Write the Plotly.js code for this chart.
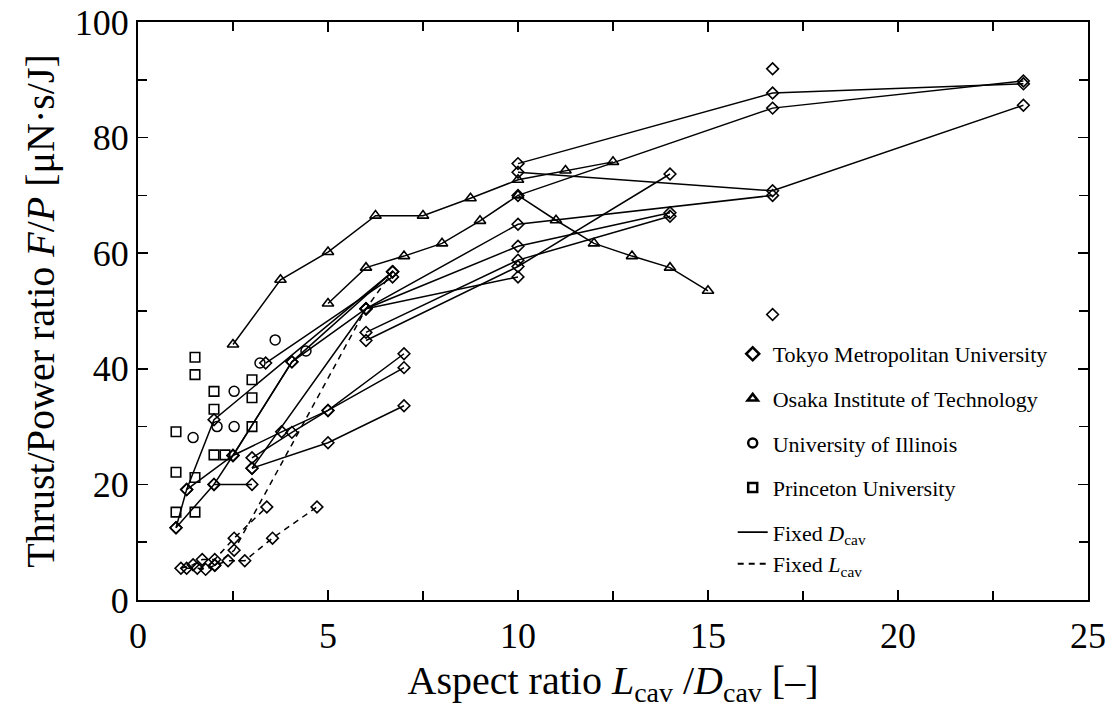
<!DOCTYPE html>
<html><head><meta charset="utf-8">
<script src="https://cdn.plot.ly/plotly-3.0.1.min.js"></script>
<style>html,body{margin:0;padding:0;background:#fff}#chart{width:1115px;height:708px}</style>
</head><body><div id="chart"></div>
<script>
// ---- Tokyo Metropolitan University, fixed D_cav (solid) ----
const tmuD1x = [1.0, 1.28, 2.0, 6.7],            tmuD1y = [12.5, 19.1, 31.2, 56.8];
const tmuD2x = [3.36, 6.7],                       tmuD2y = [41.0, 55.9];
const tmuD3x = [1.0, 2.0, 3.0],                   tmuD3y = [12.5, 20.0, 20.0];
const tmuD4x = [1.28, 2.5, 3.78, 5.0, 7.0],       tmuD4y = [19.1, 25.0, 29.1, 32.8, 40.2];
const tmuD5x = [2.0, 2.5, 4.05, 6.7],             tmuD5y = [20.0, 25.0, 41.2, 56.8];
const tmuD6x = [2.5, 4.05, 6.0, 10, 16.7],        tmuD6y = [25.0, 41.2, 50.4, 65.0, 70.0];
const tmuD7x = [3.0, 4.05, 5.0, 7.0],             tmuD7y = [24.6, 29.0, 32.8, 42.6];
const tmuD8x = [3.0, 5.0, 7.0],                   tmuD8y = [22.8, 27.2, 33.6];
const tmuD9x = [3.0, 6.0, 10, 14],                tmuD9y = [22.8, 50.4, 61.2, 67.0];
const tmuD10x = [6.0, 10, 14],                    tmuD10y = [46.3, 58.8, 66.4];
const tmuD11x = [6.0, 10, 14],                    tmuD11y = [44.9, 57.7, 73.7];
const tmuD12x = [6.0, 10],                        tmuD12y = [50.4, 55.9];
const tmuD13x = [10, 16.7, 23.3],                 tmuD13y = [75.5, 87.7, 89.3];
const tmuD14x = [10, 16.7, 23.3],                 tmuD14y = [70.0, 85.1, 89.8];
const tmuD15x = [10, 16.7, 23.3],                 tmuD15y = [74.0, 70.8, 85.6];
// ---- Tokyo Metropolitan University, fixed L_cav (dashed) ----
const tmuL1x = [1.13, 1.45, 1.69, 2.02, 2.53, 3.39],             tmuL1y = [5.5, 6.1, 7.0, 7.0, 10.7, 16.1];
const tmuL2x = [1.28, 1.56, 1.78, 2.02, 2.37, 2.81, 3.54, 4.71], tmuL2y = [5.5, 5.5, 5.3, 6.0, 6.8, 6.8, 10.7, 16.1];
const tmuL3x = [2.02, 2.53, 6.0, 6.7],                           tmuL3y = [6.0, 8.6, 50.4, 56.8];
// ---- Tokyo isolated points ----
const tmuPx = [16.7, 16.7], tmuPy = [91.9, 49.4];
// ---- Osaka Institute of Technology ----
const oitAx = [2.5, 3.75, 5.0, 6.25, 7.5, 8.75, 10, 11.25, 12.5];
const oitAy = [44.2, 55.4, 60.2, 66.5, 66.5, 69.5, 72.7, 74.3, 75.8];
const oitBx = [5, 6, 7, 8, 9, 10, 11, 12, 13, 14, 15];
const oitBy = [51.3, 57.5, 59.5, 61.7, 65.6, 70.0, 65.7, 61.7, 59.5, 57.5, 53.5];
// ---- University of Illinois ----
const uiucX = [1.45, 2.08, 2.53, 2.53, 3.21, 3.61, 4.42];
const uiucY = [28.1, 30.0, 36.1, 30.0, 41.0, 45.0, 43.1];
// ---- Princeton University ----
const prX = [1.0, 1.0, 1.0, 1.5, 1.5, 1.5, 1.5, 2.0, 2.0, 2.0, 2.29, 3.0, 3.0, 3.0];
const prY = [29.1, 22.1, 15.2, 42.0, 39.0, 21.2, 15.2, 36.1, 33.0, 25.1, 25.1, 38.1, 35.0, 30.0];

const legendNames = ['Tokyo Metropolitan University', 'Osaka Institute of Technology',
  'University of Illinois', 'Princeton University',
  'Fixed <i>D</i><sub>cav</sub>', 'Fixed <i>L</i><sub>cav</sub>'];

const BLACK = '#000';
const diamond = {symbol: 'diamond-open', size: 9, color: BLACK, line: {width: 1.6, color: BLACK}};
const tri = {symbol: 'triangle-up-open', size: 10, color: BLACK, line: {width: 1.6, color: BLACK}};
const circ = {symbol: 'circle-open', size: 10, color: BLACK, line: {width: 1.5, color: BLACK}};
const sq = {symbol: 'square-open', size: 9.5, color: BLACK, line: {width: 1.6, color: BLACK}};

const traces = [];
function lineTrace(x, y, marker, dash) {
  traces.push({x: x, y: y, type: 'scatter', mode: 'lines+markers', showlegend: false,
    line: {color: BLACK, width: 1.5, dash: dash || 'solid'}, marker: marker, hoverinfo: 'skip'});
}
lineTrace(oitAx, oitAy, tri);
lineTrace(oitBx, oitBy, tri);
[[tmuD1x,tmuD1y],[tmuD2x,tmuD2y],[tmuD3x,tmuD3y],[tmuD4x,tmuD4y],[tmuD5x,tmuD5y],
 [tmuD6x,tmuD6y],[tmuD7x,tmuD7y],[tmuD8x,tmuD8y],[tmuD9x,tmuD9y],[tmuD10x,tmuD10y],
 [tmuD11x,tmuD11y],[tmuD12x,tmuD12y],[tmuD13x,tmuD13y],[tmuD14x,tmuD14y],[tmuD15x,tmuD15y]]
 .forEach(p => lineTrace(p[0], p[1], diamond));
[[tmuL1x,tmuL1y],[tmuL2x,tmuL2y],[tmuL3x,tmuL3y]].forEach(p => lineTrace(p[0], p[1], diamond, '6px,5px'));
traces.push({x: tmuPx, y: tmuPy, type: 'scatter', mode: 'markers', showlegend: false, marker: diamond});
traces.push({x: uiucX, y: uiucY, type: 'scatter', mode: 'markers', showlegend: false, marker: circ});
traces.push({x: prX, y: prY, type: 'scatter', mode: 'markers', showlegend: false, marker: sq});

// legend entries
const legMarkers = [
  {symbol: 'diamond-open', size: 10, color: BLACK, line: {width: 2.5, color: BLACK}},
  {symbol: 'triangle-up-open', size: 9, color: BLACK, line: {width: 2.5, color: BLACK}},
  {symbol: 'circle-open', size: 9, color: BLACK, line: {width: 2.5, color: BLACK}},
  {symbol: 'square-open', size: 9, color: BLACK, line: {width: 2.5, color: BLACK}}];
legMarkers.forEach((m, i) => traces.push({x: [null], y: [null], type: 'scatter', mode: 'markers',
  name: legendNames[i], marker: m, legendgroup: 'g' + i}));
traces.push({x: [null], y: [null], type: 'scatter', mode: 'lines', name: legendNames[4],
  line: {color: BLACK, width: 1.8}, legendgroup: 'g4'});
traces.push({x: [null], y: [null], type: 'scatter', mode: 'lines', name: legendNames[5],
  line: {color: BLACK, width: 1.8, dash: '6px,5px'}, legendgroup: 'g4'});

const FONT = 'Liberation Serif, Times New Roman, serif';
const axisCommon = {
  showline: true, linewidth: 2, linecolor: BLACK, mirror: 'allticks',
  ticks: 'inside', ticklen: 10, tickwidth: 1.5, tickcolor: BLACK,
  showgrid: false, zeroline: false,
  tickfont: {family: FONT, size: 36, color: BLACK}
};
const layout = {
  width: 1115, height: 708,
  margin: {l: 138, r: 27, t: 22, b: 108},
  paper_bgcolor: '#fff', plot_bgcolor: '#fff',
  font: {family: FONT, color: BLACK},
  xaxis: Object.assign({}, axisCommon, {
    range: [0, 25], dtick: 5, tick0: 0, ticklabelstandoff: 3,
    minor: {dtick: 2.5, ticks: 'inside', ticklen: 9, tickwidth: 1.5, tickcolor: BLACK, showgrid: false},
    title: {text: 'Aspect ratio <i>L</i><sub>cav</sub> /<i>D</i><sub>cav</sub> [–]',
      font: {family: FONT, size: 40, color: BLACK}, standoff: 12}
  }),
  yaxis: Object.assign({}, axisCommon, {
    range: [0, 100], dtick: 20, tick0: 0,
    minor: {dtick: 10, ticks: 'inside', ticklen: 9, tickwidth: 1.5, tickcolor: BLACK, showgrid: false},
    title: {text: 'Thrust/Power ratio <i>F</i>/<i>P</i> [μN·s/J]',
      font: {family: FONT, size: 40, color: BLACK}, standoff: 8}
  }),
  showlegend: true,
  legend: {x: 0.626, y: 0.462, xanchor: 'left', yanchor: 'top', bgcolor: 'rgba(0,0,0,0)',
    font: {family: FONT, size: 22, color: BLACK}, traceorder: 'grouped', tracegroupgap: 13,
    itemwidth: 30}
};
Plotly.newPlot('chart', traces, layout, {displayModeBar: false, staticPlot: true});
</script>
</body></html>
